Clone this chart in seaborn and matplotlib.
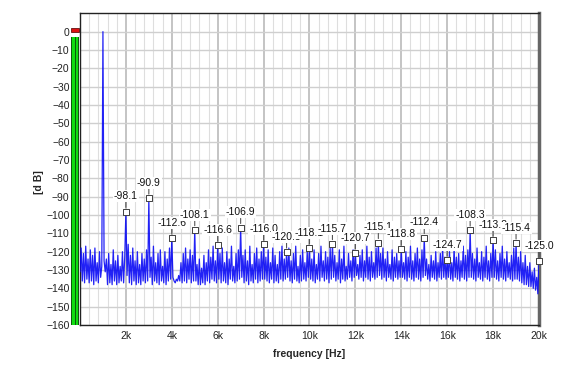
import numpy as np
import pandas as pd
import matplotlib.pyplot as plt
from matplotlib.patches import Rectangle
import seaborn as sns

sns.set_style("white")
plt.rcParams['font.family'] = ['Liberation Sans', 'DejaVu Sans']

# spectrum bins, 50 Hz spacing, one row per kHz
bin_step = 50
noise_rows = [
    [-131, -118, -136, -121, -137, -117, -135, -124, -137, -119, -136, -122, -138, -118, -136, -126, -137, -120, -134, -128],
    [0, -125, -131, -124, -138, -121, -137, -127, -138, -119, -136, -125, -138, -122, -137, -128, -136, -120, -137, -123],
    [-98.1, -133, -116, -137, -122, -138, -118, -136, -125, -138, -120, -137, -127, -138, -121, -136, -124, -137, -119, -136],
    [-90.9, -134, -123, -138, -117, -136, -126, -137, -121, -138, -119, -136, -128, -137, -120, -138, -124, -136, -118, -135],
    [-112.6, -134, -136, -137, -135, -136, -133, -136, -126, -137, -121, -136, -118, -137, -124, -135, -119, -137, -122, -136],
    [-108.1, -136, -127, -138, -124, -138, -129, -137, -122, -138, -126, -136, -119, -137, -123, -135, -117, -136, -125, -137],
    [-116.6, -135, -121, -137, -118, -136, -126, -137, -120, -138, -124, -135, -117, -136, -128, -137, -121, -136, -119, -135],
    [-106.9, -134, -122, -137, -119, -136, -125, -138, -117, -136, -127, -137, -121, -135, -118, -137, -124, -136, -120, -135],
    [-116.0, -135, -123, -136, -119, -137, -126, -135, -118, -137, -122, -136, -127, -137, -120, -135, -117, -136, -124, -135],
    [-120.3, -134, -118, -136, -125, -137, -121, -135, -117, -136, -128, -137, -122, -136, -119, -135, -126, -136, -120, -134],
    [-118.1, -135, -124, -136, -119, -137, -127, -135, -121, -136, -117, -134, -125, -136, -120, -135, -123, -137, -118, -135],
    [-115.7, -134, -122, -136, -126, -135, -119, -137, -124, -135, -117, -136, -128, -135, -121, -134, -125, -136, -119, -134],
    [-120.7, -133, -127, -135, -122, -134, -119, -136, -125, -134, -117, -135, -123, -136, -120, -134, -126, -135, -118, -134],
    [-115.1, -133, -121, -135, -118, -134, -124, -136, -120, -134, -127, -135, -119, -136, -123, -134, -121, -135, -125, -134],
    [-118.8, -134, -126, -135, -120, -136, -123, -134, -117, -135, -125, -136, -121, -134, -118, -135, -124, -136, -119, -134],
    [-112.4, -133, -124, -135, -127, -136, -122, -134, -125, -135, -120, -136, -126, -134, -121, -135, -118, -134, -123, -135],
    [-124.7, -134, -120, -135, -126, -136, -118, -134, -123, -135, -121, -136, -125, -134, -117, -135, -122, -136, -119, -134],
    [-108.3, -134, -121, -135, -124, -136, -118, -134, -126, -135, -120, -136, -123, -134, -117, -135, -125, -136, -121, -134],
    [-113.8, -134, -119, -135, -125, -136, -121, -134, -117, -135, -124, -136, -120, -134, -126, -135, -122, -136, -118, -135],
    [-115.4, -135, -123, -136, -120, -137, -126, -138, -122, -138, -128, -139, -126, -139, -131, -140, -129, -141, -134, -143],
    [-125.0],
]

# marked harmonics
harm_khz = [2, 3, 4, 5, 6, 7, 8, 9, 10, 11, 12, 13, 14, 15, 16, 17, 18, 19, 20]
harm_db = [-98.1, -90.9, -112.6, -108.1, -116.6, -106.9, -116.0, -120.3, -118.1, -115.7,
           -120.7, -115.1, -118.8, -112.4, -124.7, -108.3, -113.8, -115.4, -125.0]

y_ticks = list(range(0, -170, -10))
x_ticks = [2000, 4000, 6000, 8000, 10000, 12000, 14000, 16000, 18000, 20000]
x_labels = ['2k', '4k', '6k', '8k', '10k', '12k', '14k', '16k', '18k', '20k']

db = [v for row in noise_rows for v in row]
spec = pd.DataFrame({'freq': np.arange(len(db)) * bin_step, 'db': db})
harm = pd.DataFrame({'freq': [k * 1000 for k in harm_khz], 'db': harm_db})

fig = plt.figure(figsize=(5.75, 3.75), dpi=100)
ax = fig.add_axes([0.1391, 0.1333, 0.7983, 0.8312])

# grid
ax.set_xticks(np.arange(0, 20001, 400), minor=True)
ax.set_xticks(x_ticks)
ax.set_xticklabels(x_labels)
ax.set_yticks(y_ticks)
ax.grid(which='minor', axis='x', color='#dedede', lw=0.8)
ax.grid(which='major', axis='x', color='#c4c4c4', lw=1.4)
ax.grid(which='major', axis='y', color='#cfcfcf', lw=1.0)
ax.set_axisbelow(True)

sns.lineplot(data=spec, x='freq', y='db', ax=ax, color='#0a0af5', lw=0.9, alpha=0.9, zorder=3)
sns.scatterplot(data=harm, x='freq', y='db', ax=ax, marker='s', s=16, color='white',
                edgecolor='#404040', linewidth=0.7, zorder=5, clip_on=False)

for f, v in zip(harm['freq'], harm['db']):
    ax.annotate(f'{v:.1f}', xy=(f, v), xytext=(0, 11), textcoords='offset points',
                ha='center', va='center', fontsize=7.5, color='#111111', zorder=6,
                bbox=dict(boxstyle='square,pad=0.1', fc='white', ec='none'),
                arrowprops=dict(arrowstyle='-', color='#555555', lw=0.8, shrinkA=0, shrinkB=3))

ax.set_xlim(0, 20000)
ax.set_ylim(-160, 10)
ax.tick_params(axis='both', length=0, labelsize=7.5, colors='#222222')
ax.tick_params(axis='y', pad=7.5)
ax.tick_params(axis='x', pad=4)
ax.set_xlabel('frequency [Hz]', fontsize=7.5, fontweight='bold', labelpad=6)
ax.set_ylabel('[d B]', fontsize=7.5, fontweight='bold')
ax.yaxis.set_label_coords(-0.078, 0.46)

for s in ['top', 'left', 'bottom']:
    ax.spines[s].set_color('#222222')
    ax.spines[s].set_linewidth(1.0)
ax.spines['right'].set_color('#666666')
ax.spines['right'].set_linewidth(2.5)

# level meter at the left edge
tr = ax.get_yaxis_transform()
ax.add_patch(Rectangle((-0.0190, -160), 0.0172, 157, transform=tr, clip_on=False,
                       fc='#0b5a0b', ec='none'))
ax.add_patch(Rectangle((-0.0172, -160), 0.0062, 157, transform=tr, clip_on=False,
                       fc='#11dd11', ec='none'))
ax.add_patch(Rectangle((-0.0096, -160), 0.0062, 157, transform=tr, clip_on=False,
                       fc='#11dd11', ec='none'))
ax.add_patch(Rectangle((-0.0190, 0), 0.0172, 2, transform=tr, clip_on=False,
                       fc='#dd1111', ec='#661111', lw=0.6))

plt.savefig('out.png', dpi=100)
